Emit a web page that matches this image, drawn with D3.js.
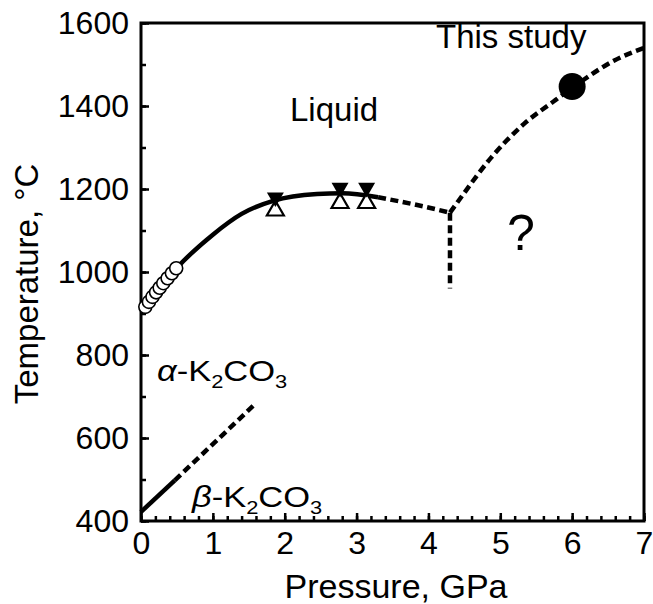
<!DOCTYPE html>
<html>
<head>
<meta charset="utf-8">
<script src="https://cdn.jsdelivr.net/npm/d3@7"></script>
<style>
  body { margin: 0; background: #fff; }
  text { font-family: "Liberation Sans", Arial, sans-serif; fill: #000; }
</style>
</head>
<body>
<div id="chart"></div>
<script>
    var svgWidth = 653;
    var svgHeight = 604;

    var margin = { top: 23, right: 9, bottom: 83, left: 141 };
    var width = svgWidth - margin.left - margin.right;
    var height = svgHeight - margin.top - margin.bottom;

    // Tick labels
    var xTicks = [0, 1, 2, 3, 4, 5, 6, 7];
    var yTicks = [400, 600, 800, 1000, 1200, 1400, 1600];

    // Open circles (low pressure melting data)
    var circleP = [0.06, 0.11, 0.16, 0.21, 0.26, 0.31, 0.37, 0.43, 0.49];
    var circleT = [916, 928, 940, 951, 962, 973, 985, 997, 1009];

    // Bracketing triangles
    var triP = [1.87, 2.77, 3.14];
    var triDownT = [1180, 1203, 1203];
    var triUpT = [1148, 1166, 1166];

    // This study
    var studyP = [6.0];
    var studyT = [1447];

    // Melting curve (solid)
    var meltP = [0.06, 0.5, 1.0, 1.4, 1.85, 2.45, 2.8, 3.3];
    var meltT = [915, 1010, 1090, 1140, 1172, 1188, 1190, 1180];

    // Dashed extrapolations
    var dashP = [3.3, 3.8, 4.3];
    var dashT = [1180, 1163, 1143];
    var vertP = [4.3, 4.3];
    var vertT = [1143, 960];
    var upperP = [4.3, 4.45, 4.87, 5.33, 5.75, 6.02, 6.58, 7.0];
    var upperT = [1143, 1179, 1275, 1357, 1412, 1446, 1509, 1540];

    // alpha-beta transition
    var abSolidP = [0, 0.47];
    var abSolidT = [422, 498];
    var abDashP = [0.47, 1.57];
    var abDashT = [498, 679];

    var svg = d3.select("#chart")
      .append("svg")
      .attr("width", svgWidth)
      .attr("height", svgHeight);

    var chartGroup = svg.append("g")
      .attr("transform", `translate(${margin.left}, ${margin.top})`);

    var xScale = d3.scaleLinear().domain([0, 7]).range([0, width]);
    var yScale = d3.scaleLinear().domain([400, 1600]).range([height, 0]);

    function pts(P, T) { return P.map((p, i) => [p, T[i]]); }

    // Axes (ticks inward)
    var bottomAxis = d3.axisBottom(xScale).tickValues(xTicks).tickSize(-8).tickPadding(10).tickFormat(d3.format("d"));
    var bottomMinor = d3.axisBottom(xScale).tickValues(d3.range(0, 7.01, 0.2)).tickSize(-5).tickFormat("");
    var leftAxis = d3.axisLeft(yScale).tickValues(yTicks).tickSize(-8).tickPadding(12).tickFormat(d3.format("d"));
    var leftMinor = d3.axisLeft(yScale).tickValues(d3.range(400, 1601, 100)).tickSize(-5).tickFormat("");

    [bottomMinor, bottomAxis].forEach(function(ax) {
      var g = chartGroup.append("g").attr("transform", `translate(0, ${height})`).call(ax);
      g.select(".domain").remove();
      g.selectAll("line").attr("stroke", "#000").attr("stroke-width", 2.5);
      g.selectAll("text").style("font-size", "32px").attr("font-family", null);
    });
    [leftMinor, leftAxis].forEach(function(ax) {
      var g = chartGroup.append("g").call(ax);
      g.select(".domain").remove();
      g.selectAll("line").attr("stroke", "#000").attr("stroke-width", 2.5);
      g.selectAll("text").style("font-size", "32px").attr("font-family", null);
    });

    // Frame
    chartGroup.append("rect")
      .attr("width", width).attr("height", height)
      .attr("fill", "none").attr("stroke", "#000").attr("stroke-width", 3);

    var line = d3.line().x(d => xScale(d[0])).y(d => yScale(d[1]));
    var smooth = d3.line().x(d => xScale(d[0])).y(d => yScale(d[1])).curve(d3.curveMonotoneX);

    function drawPath(data, gen, dashed) {
      chartGroup.append("path")
        .datum(data)
        .attr("d", gen)
        .attr("fill", "none")
        .attr("stroke", "#000")
        .attr("stroke-width", 4.5)
        .attr("stroke-dasharray", dashed ? "8,4.5" : null);
    }

    drawPath(pts(meltP, meltT), smooth, false);
    drawPath(pts(dashP, dashT), smooth, true);
    drawPath(pts(vertP, vertT), line, true);
    drawPath(pts(upperP, upperT), smooth, true);
    drawPath(pts(abSolidP, abSolidT), line, false);
    drawPath(pts(abDashP, abDashT), line, true);

    // Open circles
    chartGroup.selectAll(".ocirc")
      .data(pts(circleP, circleT))
      .enter().append("circle")
      .attr("cx", d => xScale(d[0]))
      .attr("cy", d => yScale(d[1]))
      .attr("r", 6.5)
      .attr("fill", "#fff")
      .attr("stroke", "#000")
      .attr("stroke-width", 1.6);

    // Triangles
    var tri = d3.symbol().type(d3.symbolTriangle).size(125);
    chartGroup.selectAll(".tup")
      .data(pts(triP, triUpT))
      .enter().append("path")
      .attr("d", tri)
      .attr("transform", d => `translate(${xScale(d[0])}, ${yScale(d[1])})`)
      .attr("fill", "#fff")
      .attr("stroke", "#000")
      .attr("stroke-width", 2.2);
    chartGroup.selectAll(".tdown")
      .data(pts(triP, triDownT))
      .enter().append("path")
      .attr("d", tri)
      .attr("transform", d => `translate(${xScale(d[0])}, ${yScale(d[1])}) rotate(180)`)
      .attr("fill", "#000");

    // This study point
    chartGroup.selectAll(".study")
      .data(pts(studyP, studyT))
      .enter().append("circle")
      .attr("cx", d => xScale(d[0]))
      .attr("cy", d => yScale(d[1]))
      .attr("r", 13.5)
      .attr("fill", "#000");

    // Region labels
    svg.append("text").attr("x", 290).attr("y", 121).style("font-size", "33px").text("Liquid");
    svg.append("text").attr("x", 436).attr("y", 48).style("font-size", "33px").text("This study");
    svg.append("text").attr("x", 507).attr("y", 250).style("font-size", "50px").text("?");

    function phaseLabel(x, y, greek) {
      var t = svg.append("text")
        .attr("transform", `translate(${x}, ${y}) scale(1.15, 1)`)
        .style("font-size", "30px");
      t.append("tspan").style("font-style", "italic").text(greek);
      t.append("tspan").text("-K");
      t.append("tspan").attr("dy", 7).style("font-size", "19px").text("2");
      t.append("tspan").attr("dy", -7).text("CO");
      t.append("tspan").attr("dy", 7).style("font-size", "19px").text("3");
    }
    phaseLabel(157, 381, "\u03b1");
    phaseLabel(192, 507, "\u03b2");

    // Axis titles
    svg.append("text")
      .attr("text-anchor", "middle")
      .attr("x", 396).attr("y", 598)
      .style("font-size", "34px")
      .text("Pressure, GPa");

    svg.append("text")
      .attr("text-anchor", "middle")
      .attr("transform", "translate(38, 284) rotate(-90)")
      .style("font-size", "33px")
      .text("Temperature, \u00b0C");
</script>
</body>
</html>
